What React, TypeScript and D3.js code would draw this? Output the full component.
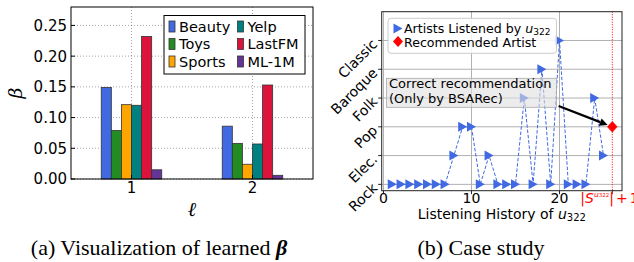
import React from "react";
import * as d3 from "d3";

// (a) learned beta per layer
const datasets = ["Beauty", "Toys", "Sports", "Yelp", "LastFM", "ML-1M"];
const datasetColors = ["#4169e1", "#228b22", "#ffa500", "#008080", "#dc143c", "#663399"];
const layers = [1, 2];
const betaLayer1 = [0.149, 0.079, 0.121, 0.12, 0.232, 0.015];
const betaLayer2 = [0.086, 0.058, 0.024, 0.057, 0.153, 0.006];
const betaTicks = [0, 0.05, 0.1, 0.15, 0.2, 0.25];

// (b) case study
const genres = ["Rock", "Elec.", "Pop", "Folk", "Baroque", "Classic"];
const listened = [
  "Rock", "Rock", "Rock", "Rock", "Rock", "Rock", "Rock",
  "Elec.", "Pop", "Pop", "Rock", "Elec.", "Rock", "Rock", "Rock",
  "Folk", "Rock", "Baroque", "Rock", "Classic", "Rock", "Rock", "Rock",
  "Folk", "Elec.",
];
const recommended = "Pop";
const historyTicks = [0, 10, 20];

const W = 634;
const H = 262;
const sans = "DejaVu Sans, sans-serif";
const serif = "Liberation Serif, Times New Roman, serif";

const BetaChart = () => {
  const left = 71, right = 313, top = 7, bottom = 179;
  const x = d3.scaleLinear().domain([0.5, 2.5]).range([left, right]);
  const y = d3.scaleLinear().domain([0, 0.28]).range([bottom, top]);
  const values = [betaLayer1, betaLayer2];

  return (
    <g>
      <rect x={left} y={top} width={right - left} height={bottom - top} fill="#fff" />
      {betaTicks.map((t) => (
        <line key={"gy" + t} x1={left} x2={right} y1={y(t)} y2={y(t)}
          stroke="#000" strokeOpacity={0.6} strokeWidth={0.6} strokeDasharray="1,2" />
      ))}
      {layers.map((l) => (
        <line key={"gx" + l} x1={x(l)} x2={x(l)} y1={top} y2={bottom}
          stroke="#000" strokeOpacity={0.6} strokeWidth={0.6} strokeDasharray="1,2" />
      ))}
      {layers.map((l, li) => {
        const inner = d3.scaleBand().domain(datasets).range([x(l - 0.25), x(l + 0.25)]);
        return datasets.map((d, i) => (
          <rect key={l + d} x={inner(d)} y={y(values[li][i])}
            width={inner.bandwidth()} height={y(0) - y(values[li][i])}
            fill={datasetColors[i]} stroke="#333" strokeWidth={0.8} />
        ));
      })}
      <rect x={left} y={top} width={right - left} height={bottom - top} fill="none" stroke="#000" strokeWidth={1} />
      {betaTicks.map((t) => (
        <g key={"ty" + t}>
          <line x1={left} x2={left + 4} y1={y(t)} y2={y(t)} stroke="#000" />
          <text x={left - 4} y={y(t)} dy="0.36em" textAnchor="end" fontSize={15} fontFamily={sans}>
            {d3.format(".2f")(t)}
          </text>
        </g>
      ))}
      {layers.map((l) => (
        <g key={"tx" + l}>
          <line x1={x(l)} x2={x(l)} y1={bottom} y2={bottom - 4} stroke="#000" />
          <text x={x(l)} y={193} textAnchor="middle" fontSize={15} fontFamily={sans}>{l}</text>
        </g>
      ))}
      <text transform={`translate(22,${(top + bottom) / 2}) rotate(-90)`} textAnchor="middle"
        fontSize={19} fontStyle="italic" fontFamily="DejaVu Serif, serif">β</text>
      <text x={(left + right) / 2} y={216} textAnchor="middle" fontSize={20} fontStyle="italic"
        fontFamily="DejaVu Serif, serif">ℓ</text>
      {/* legend */}
      <rect x={164} y={15.5} width={141} height={58.5} fill="#fff" stroke="#000" strokeWidth={1} />
      {datasets.map((d, i) => {
        const col = Math.floor(i / 3);
        const row = i % 3;
        const lx = col === 0 ? 169 : 237.5;
        const cy = 26.5 + row * 17.5;
        return (
          <g key={"lg" + d}>
            <rect x={lx} y={cy - 5.5} width={6} height={11} fill={datasetColors[i]} stroke="#333" strokeWidth={0.8} />
            <text x={lx + 10} y={cy} dy="0.36em" fontSize={14.5} fontFamily={sans}>{d}</text>
          </g>
        );
      })}
    </g>
  );
};

const CaseChart = () => {
  const left = 381.7, right = 622, top = 11.7, bottom = 190.7;
  const x = d3.scaleLinear().domain([-0.2, 27.1]).range([left, right]);
  const y = d3.scaleLinear().domain([-0.22, 6]).range([bottom, top]);
  const gy = (g: string) => y(genres.indexOf(g));
  const recX = listened.length + 1;
  const pts = listened.map((g, i) => [x(i + 1), gy(g)] as [number, number]);
  const line = d3.line();
  const tri = "M-4.5,-5L4.5,0L-4.5,5Z";
  const dia = "M0,-5.5L5,0L0,5.5L-5,0Z";

  // annotation arrow
  const ax0 = x(19.9), ay0 = y(2.72);
  const ax1 = x(recX), ay1 = gy(recommended);
  const ang = Math.atan2(ay1 - ay0, ax1 - ax0);
  const tipX = ax1 - 5 * Math.cos(ang), tipY = ay1 - 5 * Math.sin(ang);
  const headLen = 8, headW = 4;
  const bx = tipX - headLen * Math.cos(ang), by = tipY - headLen * Math.sin(ang);
  const head = `M${tipX},${tipY}L${bx + headW * Math.sin(ang)},${by - headW * Math.cos(ang)}L${bx - headW * Math.sin(ang)},${by + headW * Math.cos(ang)}Z`;

  return (
    <g>
      <defs>
        <clipPath id="caseClip">
          <rect x={left} y={top} width={right - left} height={bottom - top} />
        </clipPath>
      </defs>
      <rect x={left} y={top} width={right - left} height={bottom - top} fill="#fff" />
      {genres.map((g) => (
        <line key={"gy" + g} x1={left} x2={right} y1={gy(g)} y2={gy(g)} stroke="#b0b0b0" strokeWidth={1} />
      ))}
      {historyTicks.map((t) => (
        <line key={"gx" + t} x1={x(t)} x2={x(t)} y1={top} y2={bottom} stroke="#b0b0b0" strokeWidth={1} />
      ))}
      <line x1={x(recX)} x2={x(recX)} y1={top} y2={bottom} stroke="#ff0000" strokeWidth={1} strokeDasharray="1,1.5" />
      <g clipPath="url(#caseClip)">
        <path d={line(pts) || ""} fill="none" stroke="#4169e1" strokeWidth={1} strokeDasharray="3.5,1.8" />
        {pts.map((p, i) => (
          <path key={"m" + i} d={tri} transform={`translate(${p[0]},${p[1]})`} fill="#4169e1" />
        ))}
        <path d={dia} transform={`translate(${x(recX)},${gy(recommended)})`} fill="#ff0000" stroke="#ff3030" strokeWidth={1} strokeOpacity={0.6} />
      </g>
      {/* annotation box */}
      <rect x={386.5} y={78.3} width={170} height={29} fill="#e0e0e0" fillOpacity={0.6} stroke="#aaa" strokeWidth={0.8} />
      <text x={389} y={88} fontSize={13} fontFamily={sans}>Correct recommendation</text>
      <text x={389} y={103} fontSize={13} fontFamily={sans}>(Only by BSARec)</text>
      <line x1={ax0} y1={ay0} x2={bx} y2={by} stroke="#000" strokeWidth={2.2} />
      <path d={head} fill="#000" />
      {/* legend */}
      <rect x={388} y={18.3} width={168.5} height={35} rx={3} fill="#fff" fillOpacity={0.85} stroke="#ccc" strokeWidth={1} />
      <path d={tri} transform="translate(398,28.5)" fill="#4169e1" />
      <text x={404} y={33} fontSize={12.6} fontFamily={sans}>
        Artists Listened by <tspan fontStyle="italic">u</tspan><tspan fontSize={9} dy={2}>322</tspan>
      </text>
      <path d={dia} transform="translate(398,41.5)" fill="#ff0000" />
      <text x={404} y={46.5} fontSize={12.6} fontFamily={sans}>Recommended Artist</text>
      {/* frame */}
      <rect x={left} y={top} width={right - left} height={bottom - top} fill="none" stroke="#222" strokeWidth={1} />
      {genres.map((g) => (
        <g key={"ty" + g}>
          <line x1={left - 3.5} x2={left} y1={gy(g)} y2={gy(g)} stroke="#222" />
          <text transform={`translate(${left - 7},${gy(g) + 1}) rotate(-45)`} textAnchor="end"
            dy="0.36em" fontSize={14} fontFamily={sans}>{g}</text>
        </g>
      ))}
      {historyTicks.map((t) => (
        <g key={"tx" + t}>
          <line x1={x(t)} x2={x(t)} y1={bottom} y2={bottom + 3.5} stroke="#222" />
          <text x={x(t)} y={202.5} textAnchor="middle" fontSize={14} fontFamily={sans}>{t}</text>
        </g>
      ))}
      <line x1={x(recX)} x2={x(recX)} y1={bottom} y2={bottom + 3.5} stroke="#222" />
      <text x={x(recX) - 32} y={202.5} fontSize={14} fontFamily={sans} fill="#ff0000">
        |<tspan fontStyle="italic">S</tspan><tspan fontSize={7.5} dy={-6} fontStyle="italic">u</tspan><tspan fontSize={5.5} dy={0.5}>322</tspan><tspan dy={5.5}>|</tspan><tspan dx={2}>+</tspan><tspan dx={2}>1</tspan>
      </text>
      <text x={(left + right) / 2} y={218.5} textAnchor="middle" fontSize={14} fontFamily={sans}>
        Listening History of <tspan fontStyle="italic">u</tspan><tspan fontSize={10} dy={2}>322</tspan>
      </text>
    </g>
  );
};

export default function App() {
  return (
    <svg width={W} height={H} style={{ position: "absolute", left: 0, top: 0, background: "#fff" }}>
      <rect width={W} height={H} fill="#fff" />
      <BetaChart />
      <CaseChart />
      <text x={159} y={255} textAnchor="middle" fontSize={22} fontFamily={serif}>
        (a) Visualization of learned <tspan fontWeight="bold" fontStyle="italic">β</tspan>
      </text>
      <text x={481} y={255} textAnchor="middle" fontSize={22} fontFamily={serif}>(b) Case study</text>
    </svg>
  );
}
